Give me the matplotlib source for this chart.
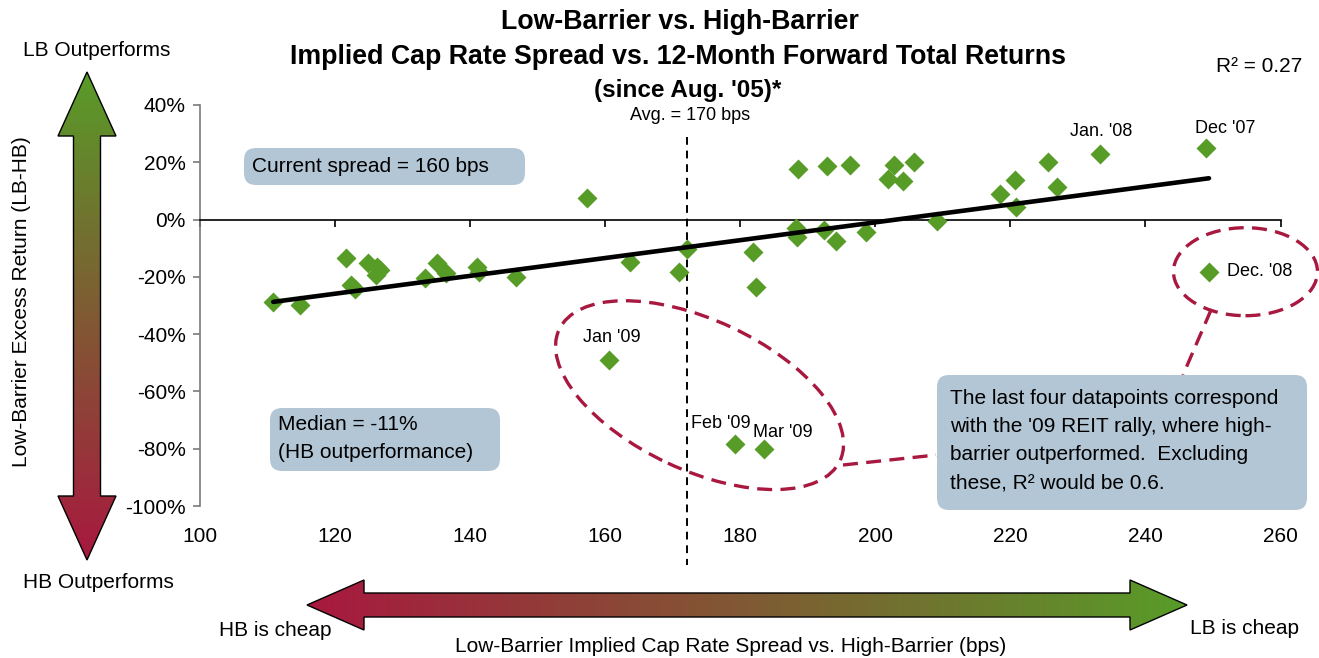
import numpy as np
import matplotlib
matplotlib.use("Agg")
import matplotlib.pyplot as plt
from matplotlib import transforms
from matplotlib.patches import Ellipse, Polygon, FancyBboxPatch
from matplotlib.colors import LinearSegmentedColormap

plt.rcParams["font.family"] = ["Liberation Sans", "DejaVu Sans"]

# LB minus HB implied cap rate spread (bps) and 12m forward excess return (%)
spread = [110.9, 114.9, 121.7, 122.4, 123.0, 124.9, 126.2, 126.7, 126.1, 133.4,
          135.2, 136.5, 141.0, 141.4, 146.8, 157.4, 163.7, 170.9, 172.1, 181.9,
          182.3, 188.5, 188.3, 188.4, 192.9, 192.4, 194.2, 196.3, 198.7, 201.9,
          202.8, 204.1, 205.7, 209.1, 218.5, 220.7, 220.8, 225.5, 226.9, 233.3,
          248.9, 249.4, 160.6, 179.3, 183.6]
excess = [-28.7, -29.8, -13.5, -22.9, -24.4, -15.3, -16.5, -17.6, -19.4, -20.5,
          -15.1, -18.6, -16.5, -18.2, -20.0, 7.4, -14.7, -18.2, -10.1, -11.2,
          -23.4, 17.6, -3.1, -6.0, 18.7, -3.7, -7.4, 19.0, -4.3, 14.0,
          19.0, 13.5, 20.2, -0.4, 9.1, 13.8, 4.5, 20.2, 11.2, 22.9,
          24.9, -18.2, -49.1, -78.5, -80.2]
# month tags: index into the arrays above
tags = {39: "Jan. '08", 40: "Dec '07", 41: "Dec. '08", 42: "Jan '09", 43: "Feb '09", 44: "Mar '09"}

avg_spread = 172.2
r_squared = 0.27
median_excess = -11

xticks = [100, 120, 140, 160, 180, 200, 220, 240, 260]
yticks = [-100, -80, -60, -40, -20, 0, 20, 40]

GREEN = "#589C28"
CRIMSON = "#A8183F"
BOX = "#B3C6D6"
W, H = 1319, 658

fig = plt.figure(figsize=(W / 100, H / 100), dpi=100)

# pixel-space layer for arrows, boxes and free text
ov = fig.add_axes([0, 0, 1, 1], zorder=0)
ov.axis("off")

ax = fig.add_axes([199.6 / W, 1 - 506 / H, 1081 / W, 401 / H], zorder=1)
ax.set_facecolor("none")
ax.set_xlim(100, 260)
ax.set_ylim(-100, 40)
for s in ["top", "right"]:
    ax.spines[s].set_visible(False)
ax.spines["bottom"].set_position(("data", 0))
ax.spines["bottom"].set_linewidth(1.2)
ax.spines["left"].set_color("#7a7a7a")
ax.spines["left"].set_linewidth(1.2)
ax.set_xticks(xticks)
ax.tick_params(axis="x", direction="out", length=5, width=1.2, labelbottom=False)
ax.set_yticks(yticks)
ax.set_yticklabels([f"{v}%" for v in yticks])
ax.tick_params(axis="y", direction="out", length=5, width=1.2, pad=5, labelsize=15,
               color="#7a7a7a")
lab_tr = transforms.blended_transform_factory(ax.transData, ax.transAxes)
for t in xticks:
    ax.text(t, -0.077, str(t), transform=lab_tr, ha="center", va="center", fontsize=15)

# scatter and linear trend
ax.plot(spread, excess, "D", ms=10.5, color=GREEN, mec="none", zorder=3, clip_on=False)
slope, icpt = np.polyfit(spread, excess, 1)
xs = np.array([min(spread), max(spread)])
ax.plot(xs, slope * xs + icpt, color="black", lw=3.3, solid_capstyle="round", zorder=4)

# average spread marker
ax.plot([avg_spread, avg_spread], [28.8, -120.5], color="black", lw=1.4,
        ls=(0, (4, 3)), clip_on=False, zorder=2)
ax.text(avg_spread + 0.4, 36.5, f"Avg. = {round(avg_spread, -1):.0f} bps",
        ha="center", va="center", fontsize=13)

offsets = {39: (1, 16, "center"), 40: (14, 14.5, "center"), 41: (13, 0, "left"),
           42: (2, 16.5, "center"), 43: (-32, 15, "left"), 44: (-8, 12, "left")}
for i, txt in tags.items():
    dx, dy, ha = offsets[i]
    ax.annotate(txt, (spread[i], excess[i]), xytext=(dx, dy), textcoords="offset points",
                ha=ha, va="center", fontsize=13)

# dashed rings around the 2009 outliers
dash = dict(fill=False, ec=CRIMSON, lw=2.4, ls=(0, (4.5, 2.5)), clip_on=False, zorder=2)
ring1 = transforms.ScaledTranslation(174.0, -61.3, ax.transData)
ax.add_patch(Ellipse((0, 0), 3.1, 1.5, angle=-25, transform=fig.dpi_scale_trans + ring1, **dash))
ring2 = transforms.ScaledTranslation(spread[41] + 5.4, excess[41], ax.transData)
ax.add_patch(Ellipse((0, 0), 1.44, 0.88, transform=fig.dpi_scale_trans + ring2, **dash))

ov.plot([843, 936], [465, 455], color=CRIMSON, lw=2.4, ls=(0, (4.5, 2.5)), zorder=1)
ov.plot([1211, 1183], [310, 375], color=CRIMSON, lw=2.4, ls=(0, (4.5, 2.5)), zorder=1)


def note_box(x0, y0, x1, y1, lines, tx, ty0, step):
    ov.add_patch(FancyBboxPatch((x0, y0), x1 - x0, y1 - y0,
                                boxstyle="round,pad=0,rounding_size=12",
                                fc=BOX, ec="none", zorder=3))
    for k, line in enumerate(lines):
        ov.text(tx, ty0 + k * step, line, ha="left", va="center", fontsize=15, zorder=4)


note_box(244, 148, 525, 185, ["Current spread = 160 bps"], 252, 166, 0)
note_box(270, 408, 500, 471, [f"Median = {median_excess}%", "(HB outperformance)"], 278, 425, 28)
note_box(937, 375, 1307, 510, ["The last four datapoints correspond",
                               "with the '09 REIT rally, where high-",
                               "barrier outperformed.  Excluding",
                               "these, R\u00b2 would be 0.6."], 950, 398, 28.3)

# gradient arrows
cmap = LinearSegmentedColormap.from_list("hb_lb", [CRIMSON, GREEN])


def gradient_arrow(pts, vertical):
    poly = Polygon(pts, closed=True, fc="none", ec="black", lw=1.0, zorder=2)
    ov.add_patch(poly)
    px, py = zip(*pts)
    g = np.linspace(0, 1, 256)
    img = g[::-1][:, None] if vertical else g[None, :]
    im = ov.imshow(img, cmap=cmap, aspect="auto", zorder=1,
                   extent=(min(px), max(px), max(py), min(py)))
    im.set_clip_path(poly)


gradient_arrow([(87, 72), (116, 136), (100.5, 136), (100.5, 496), (116, 496), (87, 560),
                (58, 496), (73.5, 496), (73.5, 136), (58, 136)], True)
gradient_arrow([(307, 605), (364, 580), (364, 593), (1130, 593), (1130, 580), (1187, 605),
                (1130, 630), (1130, 617), (364, 617), (364, 630)], False)

ov.set_xlim(0, W)
ov.set_ylim(H, 0)

# titles and labels
ov.text(680, 22, "Low-Barrier vs. High-Barrier", ha="center", va="center",
        fontsize=19.3, fontweight="bold")
ov.text(678, 57, "Implied Cap Rate Spread vs. 12-Month Forward Total Returns",
        ha="center", va="center", fontsize=19.3, fontweight="bold")
ov.text(688, 90, "(since Aug. '05)*", ha="center", va="center", fontsize=17.5, fontweight="bold")
ov.text(1302, 67, f"R\u00b2 = {r_squared}", ha="right", va="center", fontsize=15)

ov.text(22, 302, "Low-Barrier Excess Return (LB-HB)", rotation=90, ha="center", va="center",
        fontsize=15)
ov.text(97, 51, "LB Outperforms", ha="center", va="center", fontsize=15)
ov.text(98, 583, "HB Outperforms", ha="center", va="center", fontsize=15)
ov.text(275, 631, "HB is cheap", ha="center", va="center", fontsize=15)
ov.text(1245, 628, "LB is cheap", ha="center", va="center", fontsize=15)
ov.text(731, 647, "Low-Barrier Implied Cap Rate Spread vs. High-Barrier (bps)",
        ha="center", va="center", fontsize=15)

fig.savefig("out.png", dpi=100)
